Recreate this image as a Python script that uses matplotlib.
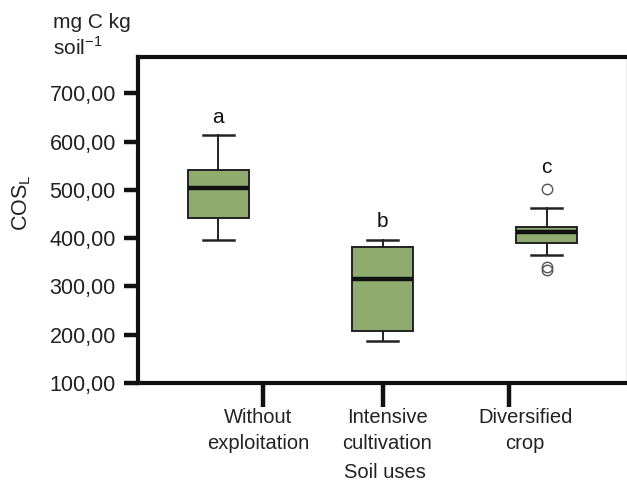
#!/usr/bin/env python3
"""
Boxplot of labile soil organic carbon (COS_L) by soil use
"""

import matplotlib
matplotlib.use('Agg')
import matplotlib.pyplot as plt

plt.rcParams['font.family'] = ['Liberation Sans', 'DejaVu Sans']
plt.rcParams['mathtext.fontset'] = 'custom'
plt.rcParams['mathtext.rm'] = 'Liberation Sans'

# Data
categories = ['Without\nexploitation', 'Intensive\ncultivation', 'Diversified\ncrop']
whisker_low = [397, 187, 364]
q1 = [442, 208, 390]
medians = [503, 315, 413]
q3 = [542, 382, 424]
whisker_high = [614, 397, 462]
outliers = [[], [], [502, 340, 334]]
letters = ['a', 'b', 'c']
letter_y = [650, 434, 547]
y_ticks = [100, 200, 300, 400, 500, 600, 700]

stats = []
for i in range(len(categories)):
    stats.append({
        'whislo': whisker_low[i], 'q1': q1[i], 'med': medians[i],
        'q3': q3[i], 'whishi': whisker_high[i], 'fliers': outliers[i],
    })

fig = plt.figure(figsize=(6.27, 4.82), dpi=100)
ax = fig.add_axes([138 / 627, 1 - 383 / 482, 489 / 627, 326 / 482])

box_pos = [1, 2, 3]
ax.bxp(stats, positions=box_pos, widths=0.37, patch_artist=True,
       boxprops=dict(facecolor='#8fac6e', edgecolor='#222222', linewidth=1.4),
       medianprops=dict(color='#111111', linewidth=3.2),
       whiskerprops=dict(color='#222222', linewidth=1.4),
       capprops=dict(color='#222222', linewidth=1.8),
       capwidths=0.19,
       flierprops=dict(marker='o', markerfacecolor='none',
                       markeredgecolor='#555555', markersize=7.5, markeredgewidth=1.0))

for x, lab, y in zip(box_pos, letters, letter_y):
    ax.text(x, y, lab, ha='center', va='center', fontsize=15, color='#111111')

ax.set_xlim(0.51, 3.49)
ax.set_ylim(100, 775)

ax.set_yticks(y_ticks)
ax.set_yticklabels(['%d,00' % v for v in y_ticks], fontsize=15.5, color='#222222')

# tick marks and labels sit at slightly different x positions
ax.set_xticks([1.27, 2.0, 2.77])
ax.set_xticklabels([])
ax.set_xticks([1.24, 2.03, 2.87], minor=True)
ax.set_xticklabels(categories, minor=True, fontsize=14.5, color='#222222', linespacing=1.45)
ax.tick_params(axis='x', which='major', direction='out', length=17, width=3.2, color='#111111')
ax.tick_params(axis='x', which='minor', length=0, pad=18)
ax.tick_params(axis='y', direction='out', length=10, width=3.2, color='#111111', pad=6)

for s in ['left', 'top', 'bottom']:
    ax.spines[s].set_linewidth(3)
    ax.spines[s].set_color('#111111')
ax.spines['right'].set_linewidth(1)
ax.spines['right'].set_color('#aaaaaa')

fig.text(385 / 627, 1 - 472 / 482, 'Soil uses', ha='center', va='center',
         fontsize=14.5, color='#222222')
fig.text(22 / 627, 1 - 203 / 482, r'COS$_{\mathrm{L}}$', rotation=90,
         ha='center', va='center', fontsize=15.5, color='#222222')
fig.text(53 / 627, 1 - 22 / 482, 'mg C kg', ha='left', va='center',
         fontsize=15, color='#222222')
fig.text(53 / 627, 1 - 47 / 482, r'soil$^{\mathrm{-1}}$', ha='left', va='center',
         fontsize=15, color='#222222')

fig.savefig('out.png', dpi=100)
